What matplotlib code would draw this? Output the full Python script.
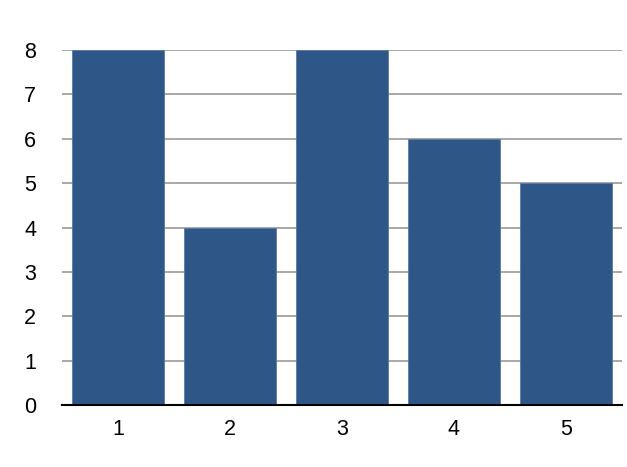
import matplotlib.pyplot as plt

# values
categories = ["1", "2", "3", "4", "5"]
values = [8, 4, 8, 6, 5]
y_ticks = [0, 1, 2, 3, 4, 5, 6, 7, 8]

BAR_COLOR = "#2e5788"
GRID_COLOR = "#a0a0a0"

plt.rcParams["font.family"] = ["Liberation Sans", "DejaVu Sans"]

fig = plt.figure(figsize=(6.27, 4.67), dpi=100)
ax = fig.add_axes([62 / 627, 62 / 467, 560 / 627, 355 / 467])

x = list(range(1, len(categories) + 1))
ax.bar(x, values, width=0.83, color=BAR_COLOR, edgecolor="#5a7aa6",
       linewidth=0.6, zorder=2)

ax.set_xlim(0.5, 5.5)
ax.set_ylim(0, 8)
ax.set_xticks(x)
ax.set_xticklabels(categories)
ax.set_yticks(y_ticks)

ax.yaxis.grid(True, color=GRID_COLOR, linewidth=1.3, zorder=0)
ax.set_axisbelow(True)

for side in ["top", "right", "left"]:
    ax.spines[side].set_visible(False)
ax.spines["bottom"].set_color("black")
ax.spines["bottom"].set_linewidth(1.5)
ax.spines["bottom"].set_zorder(3)

ax.tick_params(axis="both", length=0, labelsize=15.5)
ax.tick_params(axis="y", pad=23)
ax.tick_params(axis="x", pad=10)
for lbl in ax.get_yticklabels():
    lbl.set_horizontalalignment("center")

fig.savefig("out.png", dpi=100)
